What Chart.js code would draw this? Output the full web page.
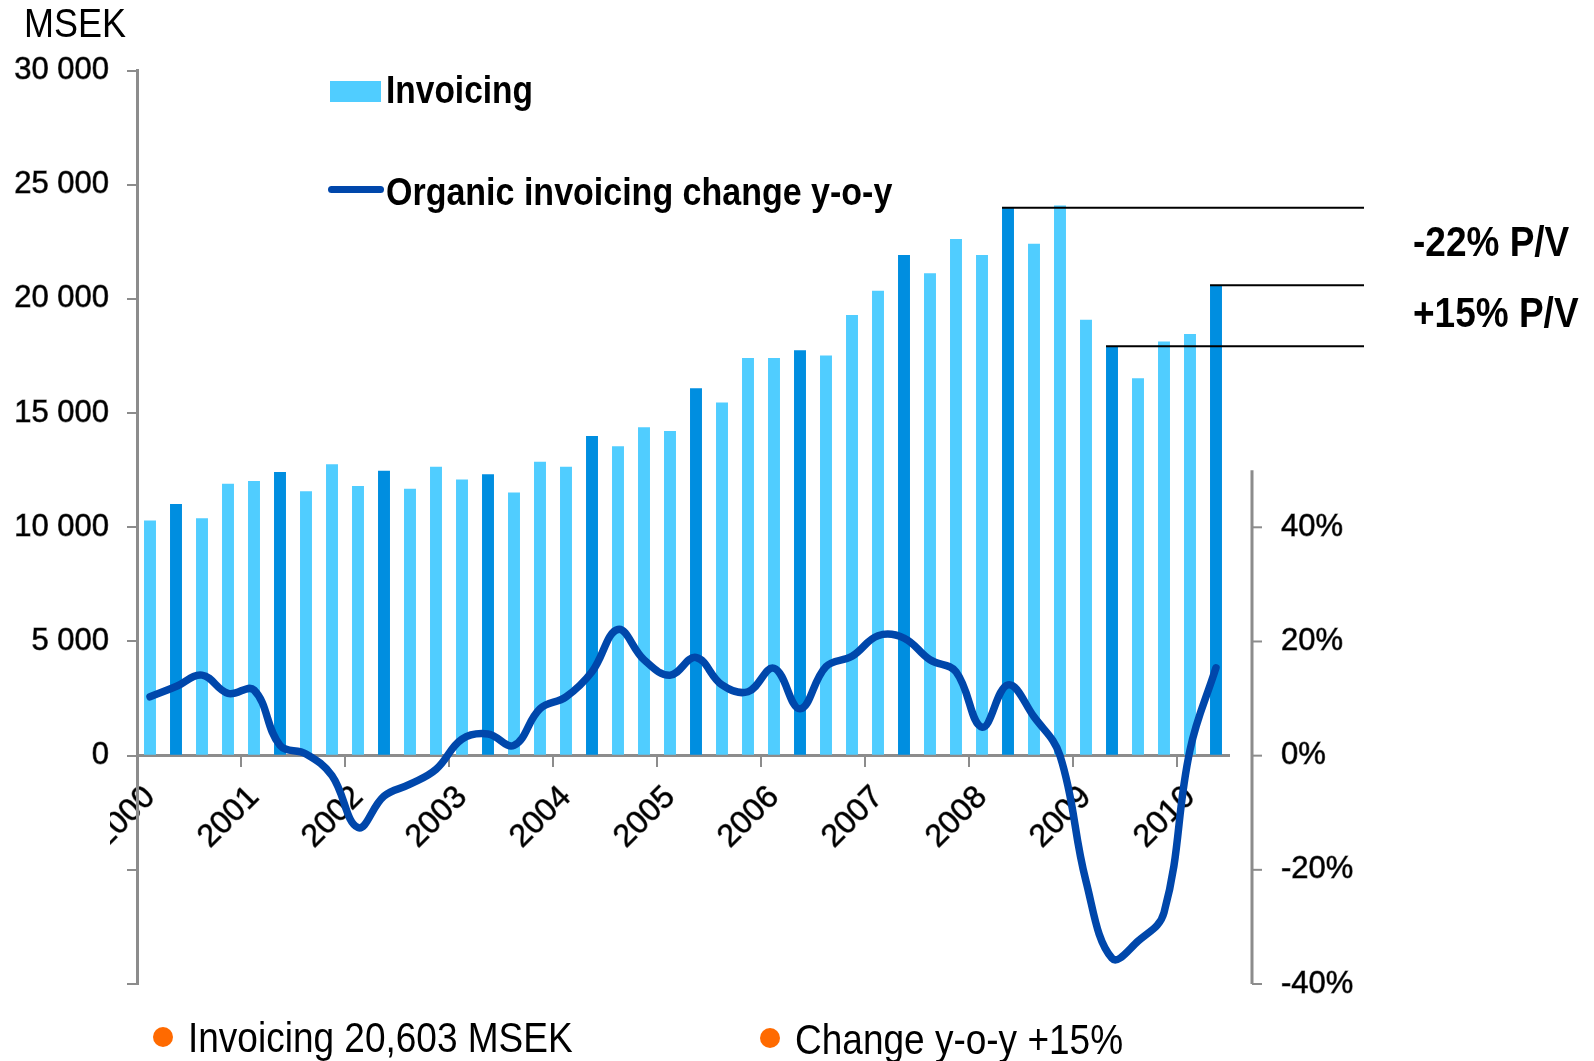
<!DOCTYPE html>
<html>
<head>
<meta charset="utf-8">
<title>Invoicing</title>
<script src="https://cdn.jsdelivr.net/npm/chart.js@4.4.0/dist/chart.umd.min.js"></script>
<style>
  body { margin: 0; background: #fff; }
  #wrap { position: relative; width: 1594px; height: 1061px; font-family: "Liberation Sans", Arial, sans-serif; color: #000; }
  #wrap canvas { position: absolute; left: 0; top: 0; }
  .txt { position: absolute; white-space: nowrap; line-height: 1; transform: scaleY(1.15); transform-origin: left center; }
  .bold { font-weight: bold; }
  .dot { position: absolute; width: 20px; height: 20px; border-radius: 50%; background: #ff6a00; }
</style>
</head>
<body>
<div id="wrap">
  <canvas id="invoiceChart" width="1594" height="1061"></canvas>

  <!-- covers the cut-off start of the first year label, as in the original -->
  <div style="position:absolute; left:0; top:772px; width:110px; height:100px; background:#fff;"></div>

  <div class="txt" style="left:24px; top:5px; font-size:36px;">MSEK</div>

  <!-- legend -->
  <div style="position:absolute; left:330px; top:81px; width:51px; height:21px; background:#50cdff;"></div>
  <div class="txt bold" style="left:386px; top:73px; font-size:33.5px;">Invoicing</div>
  <div style="position:absolute; left:328px; top:186px; width:56px; height:7px; border-radius:4px; background:#0047ab;"></div>
  <div class="txt bold" style="left:386px; top:174px; font-size:34px;">Organic invoicing change y-o-y</div>

  <!-- right side notes -->
  <div class="txt bold" style="left:1413px; top:223px; font-size:37px;">-22% P/V</div>
  <div class="txt bold" style="left:1413px; top:294px; font-size:37px;">+15% P/V</div>

  <!-- footer -->
  <div class="dot" style="left:153px; top:1027px;"></div>
  <div class="txt" style="left:188px; top:1019px; font-size:37px;">Invoicing 20,603 MSEK</div>
  <div class="dot" style="left:760px; top:1028px;"></div>
  <div class="txt" style="left:795px; top:1021px; font-size:37px;">Change y-o-y +15%</div>
</div>

<script>
// --- Data ---
const quarters = [
  '2000 Q1', '2000 Q2', '2000 Q3', '2000 Q4',
  '2001 Q1', '2001 Q2', '2001 Q3', '2001 Q4',
  '2002 Q1', '2002 Q2', '2002 Q3', '2002 Q4',
  '2003 Q1', '2003 Q2', '2003 Q3', '2003 Q4',
  '2004 Q1', '2004 Q2', '2004 Q3', '2004 Q4',
  '2005 Q1', '2005 Q2', '2005 Q3', '2005 Q4',
  '2006 Q1', '2006 Q2', '2006 Q3', '2006 Q4',
  '2007 Q1', '2007 Q2', '2007 Q3', '2007 Q4',
  '2008 Q1', '2008 Q2', '2008 Q3', '2008 Q4',
  '2009 Q1', '2009 Q2', '2009 Q3', '2009 Q4',
  '2010 Q1', '2010 Q2'
];

// Invoicing, MSEK
const invoicing = [
  10300, 11020, 10400, 11910,
  12030, 12420, 11580, 12760,
  11810, 12480, 11690, 12650,
  12090, 12320, 11520, 12870,
  12650, 14000, 13550, 14380,
  14220, 16090, 15470, 17410,
  17410, 17750, 17520, 19300,
  20360, 21920, 21130, 22630,
  21920, 23990, 22420, 24090,
  19090, 17930, 16530, 18140,
  18470, 20603
];

// Organic invoicing change y-o-y, %
const organicChange = [
  10.3, 12.1, 14.1, 10.9,
  11.5, 1.8, 0.3, -3.5,
  -12.6, -7.1, -5.0, -2.4,
  2.9, 3.8, 1.8, 8.2,
  10.3, 14.7, 22.1, 16.8,
  14.1, 17.2, 12.4, 11.2,
  15.3, 8.2, 15.6, 17.4,
  21.0, 20.6, 16.8, 14.7,
  5.0, 12.4, 6.8, 0.0,
  -22.0, -35.5, -32.5, -27.5,
  1.0, 15.4
];

const leftTicks = [-10000, -5000, 0, 5000, 10000, 15000, 20000, 25000, 30000];
const rightTicks = [-40, -20, 0, 20, 40];
const rightAxisTop = 50;

// bars marked with a reference line (2008 Q2, 2009 Q2, 2010 Q2)
const refQuarters = ['2008 Q2', '2009 Q2', '2010 Q2'];

// --- Colours ---
const lightBlue = '#50cdff';
const darkBlue = '#008ee0';
const lineBlue = '#0047ab';
const axisGrey = '#8c8c8c';

const fmtThousands = v => String(v).replace(/\B(?=(\d{3})+(?!\d))/g, ' ');

// draws the reference lines and the short right-hand % axis
const extrasPlugin = {
  id: 'extras',
  afterDatasetsDraw(chart) {
    const ctx = chart.ctx;
    const bars = chart.getDatasetMeta(1).data;
    const lineEnd = chart.chartArea.right + 135;

    ctx.save();
    ctx.strokeStyle = '#000';
    ctx.lineWidth = 2;
    refQuarters.forEach(q => {
      const b = bars[quarters.indexOf(q)];
      const x0 = b.x - b.width / 2;
      ctx.beginPath();
      ctx.moveTo(x0, b.y);
      ctx.lineTo(lineEnd, b.y);
      ctx.stroke();
    });

    const y1 = chart.scales.y1;
    const ax = chart.chartArea.right + 23;
    ctx.strokeStyle = axisGrey;
    ctx.lineWidth = 3;
    ctx.beginPath();
    ctx.moveTo(ax, y1.getPixelForValue(rightTicks[0]));
    ctx.lineTo(ax, y1.getPixelForValue(rightAxisTop));
    ctx.stroke();
    ctx.lineWidth = 2;
    rightTicks.forEach(v => {
      const py = y1.getPixelForValue(v);
      ctx.beginPath();
      ctx.moveTo(ax, py);
      ctx.lineTo(ax + 10, py);
      ctx.stroke();
    });
    ctx.restore();
  }
};

Chart.defaults.font.family = '"Liberation Sans", Arial, sans-serif';
Chart.defaults.color = '#000';

// slightly heavier tick text, like the blurred original
const tickInk = { textStrokeColor: 'rgba(0,0,0,0.55)', textStrokeWidth: 1 };

const ctx = document.getElementById('invoiceChart');

new Chart(ctx, {
  type: 'bar',
  data: {
    labels: quarters,
    datasets: [
      {
        type: 'line',
        label: 'Organic invoicing change y-o-y',
        data: organicChange,
        yAxisID: 'y1',
        borderColor: lineBlue,
        borderWidth: 7.5,
        pointRadius: 0,
        tension: 0.4,
        borderCapStyle: 'round',
        borderJoinStyle: 'round',
        order: 0
      },
      {
        label: 'Invoicing',
        data: invoicing,
        yAxisID: 'y',
        backgroundColor: c => (c.dataIndex % 4 === 1 ? darkBlue : lightBlue),
        barPercentage: 0.46,
        categoryPercentage: 1.0,
        order: 1
      }
    ]
  },
  options: {
    responsive: false,
    animation: false,
    layout: { padding: { top: 64, bottom: 77, left: 0, right: 0 } },
    plugins: {
      legend: { display: false },
      tooltip: { enabled: false }
    },
    scales: {
      x: {
        position: { y: 0 },
        grid: {
          offset: true,
          drawOnChartArea: false,
          drawTicks: true,
          tickLength: 10,
          lineWidth: 2,
          color: c => (c.index % 4 === 0 ? axisGrey : 'rgba(0,0,0,0)')
        },
        border: { color: axisGrey, width: 3 },
        ticks: {
          ...tickInk,
          autoSkip: false,
          minRotation: 45,
          maxRotation: 45,
          padding: 13,
          font: { size: 32 },
          callback: (v, i) => (quarters[i].endsWith('Q1') ? quarters[i].slice(0, 4) : '')
        }
      },
      y: {
        position: 'left',
        min: leftTicks[0],
        max: leftTicks[leftTicks.length - 1],
        afterBuildTicks: s => { s.ticks = leftTicks.map(v => ({ value: v })); },
        afterFit: s => { s.width = 137; },
        grid: {
          drawOnChartArea: false,
          drawTicks: true,
          tickLength: 10,
          lineWidth: 2,
          color: axisGrey
        },
        border: { color: axisGrey, width: 3 },
        ticks: {
          ...tickInk,
          padding: 18,
          font: { size: 31 },
          callback: v => (v < 0 ? '' : fmtThousands(v))
        }
      },
      y1: {
        position: 'right',
        min: -40,
        max: 120,
        afterBuildTicks: s => { s.ticks = rightTicks.map(v => ({ value: v })); },
        afterFit: s => { s.width = 365; },
        grid: { drawOnChartArea: false, drawTicks: false },
        border: { display: false },
        ticks: {
          ...tickInk,
          padding: 52,
          font: { size: 31 },
          callback: v => v + '%'
        }
      }
    }
  },
  plugins: [extrasPlugin]
});
</script>
</body>
</html>
